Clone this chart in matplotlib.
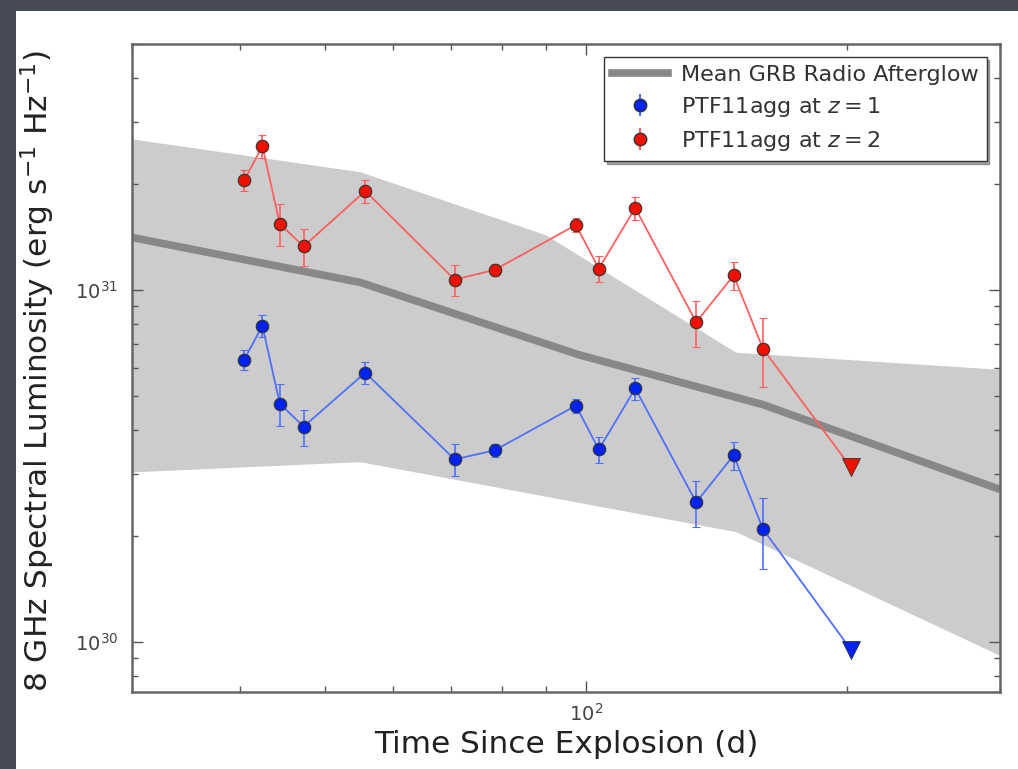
import matplotlib
matplotlib.use("Agg")
import matplotlib.pyplot as plt
from matplotlib.patches import Rectangle
from matplotlib.ticker import LogLocator, NullFormatter, LogFormatterMathtext
from matplotlib.lines import Line2D

# ---- data ----
t_obs = [40.4, 42.4, 44.4, 47.3, 55.7, 70.6, 78.5, 97.4, 103.5, 114, 134, 148, 160]
lum_z2 = [2.05e31, 2.56e31, 1.54e31, 1.33e31, 1.91e31, 1.07e31, 1.14e31, 1.53e31,
          1.15e31, 1.71e31, 8.1e30, 1.10e31, 6.8e30]
err_z2 = [1.4e30, 1.9e30, 2.1e30, 1.6e30, 1.4e30, 1.1e30, 0.45e30, 0.7e30,
          1.0e30, 1.3e30, 1.2e30, 1.0e30, 1.5e30]
lum_z1 = [6.34e30, 7.91e30, 4.75e30, 4.09e30, 5.82e30, 3.30e30, 3.50e30, 4.69e30,
          3.52e30, 5.25e30, 2.49e30, 3.39e30, 2.09e30]
err_z1 = [0.42e30, 0.58e30, 0.65e30, 0.48e30, 0.42e30, 0.34e30, 0.14e30, 0.22e30,
          0.30e30, 0.38e30, 0.37e30, 0.31e30, 0.48e30]
t_lim = 202
lim_z2 = 3.13e30
lim_z1 = 9.5e29

t_mean = [30, 55, 98, 160, 300]
lum_mean = [1.41e31, 1.05e31, 6.55e30, 4.72e30, 2.71e30]

t_band_hi = [30, 55, 90, 149, 300]
lum_band_hi = [2.68e31, 2.16e31, 1.43e31, 6.63e30, 5.93e30]
t_band_lo = [30, 55, 149, 300]
lum_band_lo = [3.03e30, 3.24e30, 2.05e30, 9.13e29]

labels = ["Mean GRB Radio Afterglow", "PTF11agg at $z=1$", "PTF11agg at $z=2$"]

# ---- figure ----
W, H = 1018, 769
fig = plt.figure(figsize=(W / 100, H / 100), dpi=100)
fig.patch.set_facecolor("#474b58")
fig.patches.append(Rectangle((16 / W, 0), 1 - 16 / W, (H - 11) / H,
                             transform=fig.transFigure, facecolor="white",
                             edgecolor="none", zorder=-10))

ax = fig.add_axes([132 / W, (H - 692) / H, (1000 - 132) / W, (692 - 44) / H])
ax.set_xscale("log")
ax.set_yscale("log")
ax.set_xlim(30, 300)
ax.set_ylim(7.2e29, 5.0e31)

# band: build polygon from upper and lower edges
poly_t = t_band_hi + t_band_lo[::-1]
poly_l = lum_band_hi + lum_band_lo[::-1]
ax.fill(poly_t, poly_l, color="#cccccc", lw=0, zorder=1)

ax.plot(t_mean, lum_mean, color="#888888", lw=5.5, zorder=2, solid_capstyle="butt")

for lum, err, lim, col, lcol in [(lum_z1, err_z1, lim_z1, "#0022ee", "#5070ff"),
                                 (lum_z2, err_z2, lim_z2, "#ee1100", "#ff6060")]:
    ax.plot(t_obs + [t_lim], lum + [lim], color=lcol, lw=1.3, zorder=3)
    ax.errorbar(t_obs, lum, yerr=err, fmt="o", color=col, ecolor=lcol,
                elinewidth=1.2, capsize=3, capthick=1.2, ms=9, mec="#333333",
                mew=0.8, zorder=4)
    ax.plot([t_lim], [lim], marker="v", color=col, ms=13, mec="#333333",
            mew=0.6, zorder=4, ls="none")

# ticks
for axis in (ax.xaxis, ax.yaxis):
    axis.set_major_locator(LogLocator(base=10))
    axis.set_minor_locator(LogLocator(base=10, subs=range(2, 10)))
    axis.set_minor_formatter(NullFormatter())
    axis.set_major_formatter(LogFormatterMathtext())
ax.tick_params(which="both", direction="in", top=True, right=True,
               colors="#555555", labelcolor="#444444", labelsize=14)
ax.tick_params(which="major", length=8, width=1)
ax.tick_params(which="minor", length=4, width=1)
ax.tick_params(axis="x", pad=8)
ax.tick_params(axis="y", pad=10)
for sp in ax.spines.values():
    sp.set_color("#666666")
    sp.set_linewidth(1.8)

ax.set_xlabel("Time Since Explosion (d)", fontsize=22.5, color="#222222")
ax.set_ylabel("8 GHz Spectral Luminosity (erg s$^{-1}$ Hz$^{-1}$)",
              fontsize=22.5, color="#222222")
ax.xaxis.set_label_coords(0.5, -0.058)
ax.yaxis.set_label_coords(-0.086, 0.495)

handles = [
    Line2D([], [], color="#888888", lw=5.5),
    ax.errorbar([], [], yerr=[], fmt="o", color="#0022ee", ecolor="#5070ff",
                ms=9, mec="#333333", capsize=3),
    ax.errorbar([], [], yerr=[], fmt="o", color="#ee1100", ecolor="#ff6060",
                ms=9, mec="#333333", capsize=3),
]
leg = ax.legend(handles, labels, loc="upper right", fontsize=16, numpoints=1,
                fancybox=False, shadow=True, framealpha=1, edgecolor="#333333",
                borderaxespad=0.6, handlelength=2.5, labelspacing=0.45,
                borderpad=0.35, handletextpad=0.6)
for txt in leg.get_texts():
    txt.set_color("#333333")

fig.savefig("out.png", dpi=100, facecolor=fig.get_facecolor())
